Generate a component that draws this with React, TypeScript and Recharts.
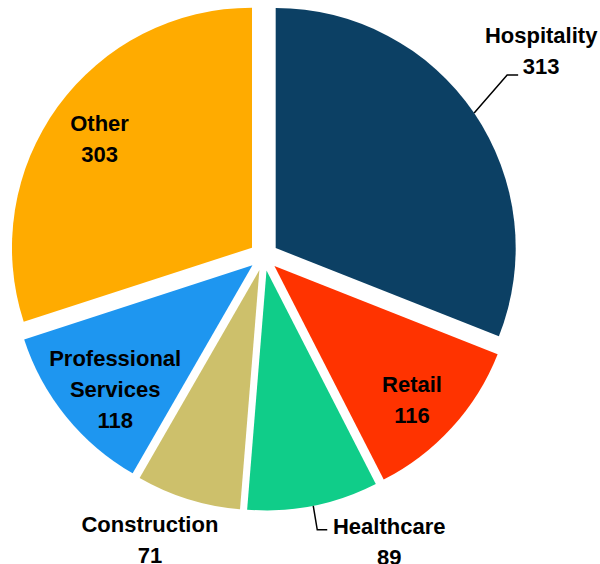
import React from 'react';
import { PieChart, Pie, Cell, Sector, Tooltip } from 'recharts';

const sectors = ['Hospitality', 'Retail', 'Healthcare', 'Construction', 'Professional Services', 'Other'];
const counts = [313, 116, 89, 71, 118, 303];
const colors = ['#0c4064', '#ff3300', '#10cd89', '#cdc06b', '#1e96f0', '#ffab00'];

const data = sectors.map((name, i) => ({ name, value: counts[i] }));

const RAD = Math.PI / 180;
const EXPLODE = 14.5;
const FONT = '"Liberation Sans", Arial, sans-serif';
const LINE_H = 31;

function polar(cx: number, cy: number, angle: number, dist: number) {
  return { x: cx + dist * Math.cos(-angle * RAD), y: cy + dist * Math.sin(-angle * RAD) };
}

function ExplodedSector(props: any) {
  const c = polar(props.cx, props.cy, props.midAngle, EXPLODE);
  return (
    <Sector
      cx={c.x}
      cy={c.y}
      innerRadius={props.innerRadius}
      outerRadius={props.outerRadius}
      startAngle={props.startAngle}
      endAngle={props.endAngle}
      fill={props.fill}
      stroke="none"
    />
  );
}

// how each label sits: inside the slice, or outside with a leader line
const layout: Record<string, any> = {
  Hospitality: { type: 'callout', elbow: [33, -38], tail: 11, text: [23, -32], anchor: 'middle' },
  Retail: { type: 'inside', k: 0.8, da: -2 },
  Healthcare: { type: 'callout', elbow: [4, 24], tail: 10, text: [62, 4], anchor: 'middle' },
  Construction: { type: 'outside', k: 1.183, da: -5.4 },
  'Professional Services': { type: 'inside', k: 0.77, da: 3 },
  Other: { type: 'inside', k: 0.78, da: 0.5 },
};

function lines(name: string, value: number) {
  return [...name.split(' '), String(value)];
}

function renderLabel(props: any) {
  const { cx, cy, midAngle, outerRadius, name, value } = props;
  const c = polar(cx, cy, midAngle, EXPLODE);
  const cfg = layout[name];
  const rows = lines(name, value);
  const textProps = { fontFamily: FONT, fontWeight: 700, fontSize: 22, fill: '#000' };

  if (cfg.type === 'inside' || cfg.type === 'outside') {
    const p = polar(c.x, c.y, midAngle + cfg.da, outerRadius * cfg.k);
    const first = cfg.type === 'inside' ? p.y - (LINE_H * (rows.length - 1)) / 2 + 8 : p.y;
    return (
      <text x={p.x} textAnchor="middle" {...textProps}>
        {rows.map((r, i) => (
          <tspan key={i} x={p.x} y={first + i * LINE_H}>
            {r}
          </tspan>
        ))}
      </text>
    );
  }

  const s = polar(c.x, c.y, midAngle, outerRadius);
  const e = { x: s.x + cfg.elbow[0], y: s.y + cfg.elbow[1] };
  const t = { x: e.x + cfg.tail, y: e.y };
  const tx = t.x + cfg.text[0];
  const ty = t.y + cfg.text[1];
  return (
    <g>
      <polyline
        points={`${s.x},${s.y} ${e.x},${e.y} ${t.x},${t.y}`}
        fill="none"
        stroke="#000"
        strokeWidth={1.5}
      />
      <text x={tx} textAnchor={cfg.anchor} {...textProps}>
        {rows.map((r, i) => (
          <tspan key={i} x={tx} y={ty + i * LINE_H}>
            {r}
          </tspan>
        ))}
      </text>
    </g>
  );
}

export default function App() {
  return (
    <div style={{ position: 'absolute', left: 0, top: 0, width: 600, height: 564, background: '#fff' }}>
      <PieChart width={600} height={564}>
        <Pie
          data={data}
          dataKey="value"
          nameKey="name"
          cx={258.7}
          cy={251.2}
          outerRadius={240}
          startAngle={90}
          endAngle={-270}
          stroke="none"
          shape={ExplodedSector}
          activeShape={ExplodedSector}
          inactiveShape={ExplodedSector}
          label={renderLabel}
          labelLine={false}
          isAnimationActive={false}
        >
          {data.map((entry, i) => (
            <Cell key={entry.name} fill={colors[i]} />
          ))}
        </Pie>
        <Tooltip content={() => null} defaultIndex={0} />
      </PieChart>
    </div>
  );
}
